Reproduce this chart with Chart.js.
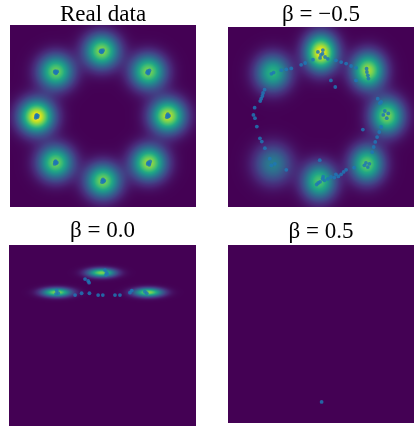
<!DOCTYPE html>
<html>
<head>
<meta charset="utf-8">
<script src="https://cdn.jsdelivr.net/npm/chart.js@4/dist/chart.umd.min.js"></script>
<style>
  body { margin: 0; background: #fff; }
  .panel { position: absolute; width: 210px; height: 216px; }
</style>
</head>
<body>
<div class="panel" style="left:0;top:0"><canvas id="c1" width="210" height="216"></canvas></div>
<div class="panel" style="left:210px;top:0"><canvas id="c2" width="210" height="216"></canvas></div>
<div class="panel" style="left:0;top:216px"><canvas id="c3" width="210" height="216"></canvas></div>
<div class="panel" style="left:210px;top:216px"><canvas id="c4" width="210" height="216"></canvas></div>
<script>
// panel titles
const titles = ['Real data', 'β = −0.5', 'β = 0.0', 'β = 0.5'];

// density blobs: [x, y, sigmaX, sigmaY, peak]
const realBlobs = [
  [-0.04, 2.14, 0.38, 0.38, 0.82],
  [1.46, 1.46, 0.38, 0.38, 0.80],
  [2.09, 0.00, 0.38, 0.38, 0.90],
  [1.48, -1.55, 0.38, 0.38, 0.86],
  [0.00, -2.14, 0.38, 0.38, 0.80],
  [-1.53, -1.54, 0.38, 0.38, 0.78],
  [-2.14, -0.02, 0.38, 0.38, 1.00],
  [-1.52, 1.46, 0.38, 0.38, 0.78]
];
const negBlobs = [
  [0.00, 2.15, 0.35, 0.42, 1.00],
  [1.52, 1.55, 0.36, 0.41, 0.86],
  [2.13, 0.03, 0.36, 0.41, 0.80],
  [1.48, -1.57, 0.36, 0.41, 0.76],
  [-0.06, -2.15, 0.36, 0.41, 0.72],
  [-1.55, -1.57, 0.41, 0.44, 0.42],
  [-1.55, 1.47, 0.38, 0.41, 0.64]
];
const zeroBlobs = [
  [-0.03, 2.08, 0.31, 0.10, 0.80],
  [-1.47, 1.43, 0.32, 0.10, 0.82],
  [1.47, 1.43, 0.32, 0.10, 0.82]
];
const posBlobs = [];

// generated samples
const realPts = [
  [-0.06, 2.16], [-0.02, 2.12], [-0.05, 2.10], [0.00, 2.17], [-0.08, 2.13],
  [1.44, 1.48], [1.48, 1.45], [1.46, 1.40], [1.50, 1.50], [1.42, 1.43],
  [2.07, 0.02], [2.11, -0.02], [2.09, 0.06], [2.13, 0.01], [2.06, -0.04],
  [1.46, -1.53], [1.50, -1.57], [1.52, -1.50], [1.44, -1.58], [1.49, -1.61],
  [-0.02, -2.12], [0.02, -2.16], [0.00, -2.09], [0.04, -2.13], [-0.03, -2.18],
  [-1.55, -1.52], [-1.51, -1.56], [-1.53, -1.49], [-1.49, -1.53], [-1.56, -1.58],
  [-2.16, 0.00], [-2.12, -0.04], [-2.14, 0.04], [-2.10, 0.01], [-2.17, -0.06],
  [-1.54, 1.48], [-1.50, 1.44], [-1.52, 1.41], [-1.48, 1.47], [-1.56, 1.45]
];
const negPts = [
  [-1.60, 1.44], [-1.53, 1.48], [-1.28, 1.56], [-1.12, 1.59], [-0.96, 1.62],
  [-0.64, 1.74], [-0.51, 1.80], [-0.26, 1.91],
  [-0.10, 2.17], [0.00, 2.07], [0.05, 2.11], [0.13, 2.00], [0.22, 1.94], [-0.03, 1.97], [0.06, 2.23],
  [0.48, 1.89], [0.65, 1.83], [0.81, 1.78], [0.97, 1.70], [1.13, 1.64],
  [1.47, 1.61], [1.48, 1.50], [1.51, 1.39], [1.53, 1.28], [1.13, 1.22],
  [0.32, 1.22], [0.46, 1.00],
  [1.83, 0.61], [1.94, 0.50], [1.90, 0.46],
  [2.01, 0.07], [2.12, -0.04], [2.17, 0.12], [2.06, 0.20],
  [1.94, -0.33], [1.88, -0.50], [1.81, -0.67], [1.75, -0.83], [1.70, -1.00], [1.65, -1.17],
  [1.35, -0.42],
  [1.40, -1.61], [1.51, -1.67], [1.56, -1.56], [1.45, -1.53], [1.07, -1.69],
  [0.81, -1.76], [0.73, -1.83], [0.65, -1.91], [0.56, -1.98], [0.48, -1.91],
  [0.43, -2.02], [0.32, -2.00], [0.22, -2.06], [0.11, -2.11], [0.05, -2.06],
  [-0.03, -2.16], [-0.09, -2.20], [-0.14, -2.25], [0.07, -1.99], [-0.04, -1.44],
  [-1.65, -1.39], [-1.49, -1.56], [-1.60, -1.61], [-1.12, -1.76],
  [-1.82, 0.91], [-1.87, 0.80], [-1.89, 0.70], [-1.93, 0.61], [-1.96, 0.53],
  [-2.14, 0.31], [-2.18, 0.07], [-2.13, -0.04], [-2.07, -0.32],
  [-1.97, -0.71], [-1.91, -0.82], [-1.81, -1.04]
];
const zeroPts = [
  [0.08, 2.17], [0.13, 2.08], [0.11, 2.01], [0.15, 2.04],
  [-0.56, 1.87], [-0.46, 1.81], [-0.43, 1.75],
  [-1.47, 1.49], [-1.42, 1.40], [-1.49, 1.38],
  [1.36, 1.45], [1.42, 1.40], [0.94, 1.49], [0.88, 1.42],
  [-0.88, 1.34], [-0.67, 1.40], [-0.42, 1.40], [-0.14, 1.34], [0.01, 1.34], [0.40, 1.34], [0.56, 1.34]
];
const posPts = [[0.02, -2.29]];

// axis range
const axisMin = -3, axisMax = 3;

// viridis colour map
const viridis = ['#440154', '#482475', '#414487', '#355f8d', '#2a788e', '#21918c',
                 '#22a884', '#44bf70', '#7ad151', '#bddf26', '#fde725']
  .map(h => [parseInt(h.slice(1, 3), 16), parseInt(h.slice(3, 5), 16), parseInt(h.slice(5, 7), 16)]);

function cmap(v) {
  v = Math.max(0, Math.min(1, v)) * (viridis.length - 1);
  const i = Math.min(Math.floor(v), viridis.length - 2);
  const t = v - i;
  const a = viridis[i], b = viridis[i + 1];
  return [a[0] + (b[0] - a[0]) * t, a[1] + (b[1] - a[1]) * t, a[2] + (b[2] - a[2]) * t];
}

// paints the density under the samples
const densityPlugin = {
  id: 'density',
  beforeDatasetsDraw(chart, args, opts) {
    const { ctx, chartArea: area, scales } = chart;
    const x0 = Math.round(area.left), y0 = Math.round(area.top);
    const w = Math.round(area.right) - x0, h = Math.round(area.bottom) - y0;
    const img = ctx.createImageData(w, h);
    for (let j = 0; j < h; j++) {
      const dy = scales.y.getValueForPixel(y0 + j + 0.5);
      for (let i = 0; i < w; i++) {
        const dx = scales.x.getValueForPixel(x0 + i + 0.5);
        let v = 0;
        for (const [bx, by, sx, sy, pk] of opts.blobs) {
          const u = (dx - bx) / sx, q = (dy - by) / sy;
          v += pk * Math.exp(-0.5 * (u * u + q * q));
        }
        const c = cmap(v);
        const k = (j * w + i) * 4;
        img.data[k] = c[0]; img.data[k + 1] = c[1]; img.data[k + 2] = c[2]; img.data[k + 3] = 255;
      }
    }
    ctx.putImageData(img, x0, y0);
  }
};

function makePanel(id, title, blobs, pts, pad) {
  new Chart(document.getElementById(id), {
    type: 'scatter',
    data: {
      datasets: [{
        data: pts.map(([x, y]) => ({ x, y })),
        pointRadius: 1.9,
        pointBackgroundColor: 'rgba(31,119,180,0.85)',
        pointBorderWidth: 0
      }]
    },
    options: {
      responsive: false,
      animation: false,
      layout: { padding: pad.layout },
      scales: {
        x: { type: 'linear', min: axisMin, max: axisMax, display: false },
        y: { type: 'linear', min: axisMin, max: axisMax, display: false }
      },
      plugins: {
        legend: { display: false },
        tooltip: { enabled: false },
        density: { blobs },
        title: {
          display: true,
          text: title,
          fullSize: false,
          color: '#000',
          font: { family: 'Liberation Serif', size: 23, weight: 'normal', lineHeight: 1 },
          padding: pad.title
        }
      }
    },
    plugins: [densityPlugin]
  });
}

makePanel('c1', titles[0], realBlobs, realPts,
  { layout: { left: 10, right: 14, top: 0, bottom: 9 }, title: { top: 3, bottom: -1 } });
makePanel('c2', titles[1], negBlobs, negPts,
  { layout: { left: 18, right: 6, top: 0, bottom: 9 }, title: { top: 3, bottom: 1 } });
makePanel('c3', titles[2], zeroBlobs, zeroPts,
  { layout: { left: 9, right: 14, top: 0, bottom: 6 }, title: { top: 3, bottom: 3 } });
makePanel('c4', titles[3], posBlobs, posPts,
  { layout: { left: 18, right: 6, top: 0, bottom: 9 }, title: { top: 4, bottom: 2 } });
</script>
</body>
</html>
